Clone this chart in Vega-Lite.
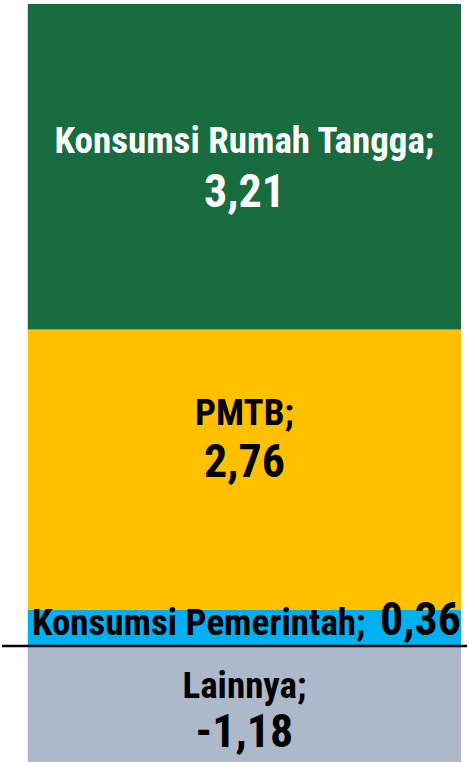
{
  "$schema": "https://vega.github.io/schema/vega-lite/v6.json",
  "autosize": {"type": "fit", "contains": "padding"},
  "width": 469,
  "height": 762,
  "padding": {"top": 4, "bottom": 0, "left": 0, "right": 0},
  "background": "white",
  "config": {"view": {"stroke": null}, "text": {"font": "'Roboto Condensed', 'DejaVu Sans Condensed', Roboto, sans-serif", "fontWeight": "bold"}},
  "data": {"values": [
    {"bar": "PDB", "komponen": "Konsumsi Pemerintah", "value": 0.36, "label": "0,36", "order": 1},
    {"bar": "PDB", "komponen": "PMTB", "value": 2.76, "label": "2,76", "order": 2},
    {"bar": "PDB", "komponen": "Konsumsi Rumah Tangga", "value": 3.21, "label": "3,21", "order": 3},
    {"bar": "PDB", "komponen": "Lainnya", "value": -1.18, "label": "-1,18", "order": 4}
  ]},
  "transform": [
    {"stack": "value", "groupby": ["bar"], "sort": [{"field": "order", "order": "ascending"}], "as": ["y0", "y1"], "offset": "zero"},
    {"calculate": "(datum.y0 + datum.y1) / 2", "as": "mid"}
  ],
  "encoding": {
    "x": {"field": "bar", "type": "nominal", "axis": null,
          "scale": {"type": "band", "paddingInner": 0, "paddingOuter": 0.0366, "align": 0.8125}}
  },
  "layer": [
    {
      "mark": {"type": "bar", "clip": true},
      "encoding": {
        "y": {"field": "y0", "type": "quantitative", "axis": null,
              "scale": {"domain": [-1.145, 6.33], "nice": false, "zero": false}},
        "y2": {"field": "y1"},
        "color": {"field": "komponen", "type": "nominal", "legend": null,
                  "scale": {"domain": ["Konsumsi Rumah Tangga", "PMTB", "Konsumsi Pemerintah", "Lainnya"],
                            "range": ["#186C3F", "#FFC000", "#00B0F0", "#ADB9CA"]}}
      }
    },
    {
      "data": {"values": [{"zero": 0}]},
      "mark": {"type": "rule", "color": "black", "strokeWidth": 2.5},
      "encoding": {"y": {"field": "zero", "type": "quantitative"}, "x": null}
    },
    {
      "transform": [{"filter": "datum.komponen === 'Konsumsi Rumah Tangga'"}],
      "layer": [
        {"mark": {"type": "text", "fontSize": 37, "color": "white", "baseline": "alphabetic", "dy": -14},
         "encoding": {"y": {"field": "mid", "type": "quantitative"}, "text": {"value": "Konsumsi Rumah Tangga;"}}},
        {"mark": {"type": "text", "fontSize": 46, "color": "white", "baseline": "alphabetic", "dy": 40},
         "encoding": {"y": {"field": "mid", "type": "quantitative"}, "text": {"field": "label"}}}
      ]
    },
    {
      "transform": [{"filter": "datum.komponen === 'PMTB'"}],
      "layer": [
        {"mark": {"type": "text", "fontSize": 37, "color": "black", "baseline": "alphabetic", "dy": -44.6},
         "encoding": {"y": {"field": "mid", "type": "quantitative"}, "text": {"value": "PMTB;"}}},
        {"mark": {"type": "text", "fontSize": 46, "color": "black", "baseline": "alphabetic", "dy": 7.7},
         "encoding": {"y": {"field": "mid", "type": "quantitative"}, "text": {"field": "label"}}}
      ]
    },
    {
      "transform": [{"filter": "datum.komponen === 'Konsumsi Pemerintah'"}],
      "layer": [
        {"mark": {"type": "text", "fontSize": 37, "color": "black", "baseline": "alphabetic", "align": "right", "dx": 121, "dy": 7.3},
         "encoding": {"y": {"field": "mid", "type": "quantitative"}, "text": {"value": "Konsumsi Pemerintah;"}}},
        {"mark": {"type": "text", "fontSize": 46, "color": "black", "baseline": "alphabetic", "align": "left", "dx": 135.5, "dy": 7.3},
         "encoding": {"y": {"field": "mid", "type": "quantitative"}, "text": {"field": "label"}}}
      ]
    },
    {
      "transform": [{"filter": "datum.komponen === 'Lainnya'"}],
      "layer": [
        {"mark": {"type": "text", "fontSize": 37, "color": "black", "baseline": "alphabetic", "dy": -7.5},
         "encoding": {"y": {"field": "mid", "type": "quantitative"}, "text": {"value": "Lainnya;"}}},
        {"mark": {"type": "text", "fontSize": 46, "color": "black", "baseline": "alphabetic", "dy": 41.5},
         "encoding": {"y": {"field": "mid", "type": "quantitative"}, "text": {"field": "label"}}}
      ]
    }
  ]
}
